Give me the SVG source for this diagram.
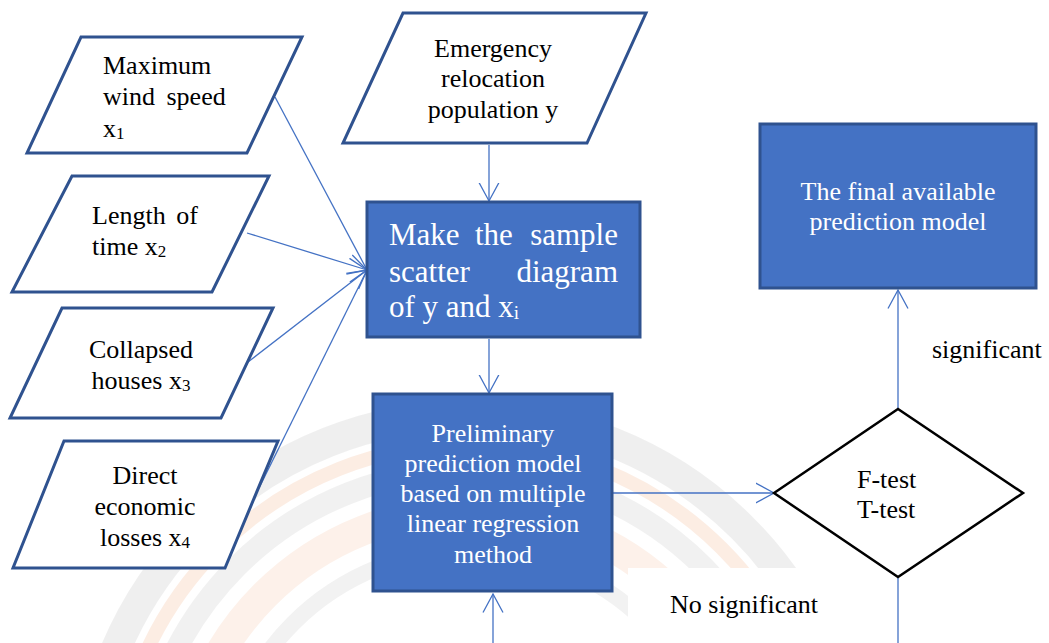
<svg xmlns="http://www.w3.org/2000/svg" width="1049" height="643" viewBox="0 0 1049 643">
<style>
.para{fill:#ffffff;stroke:#2f528f;stroke-width:3}
.box{fill:#4472c4;stroke:#2f528f;stroke-width:3}
text{font-family:'Liberation Serif',serif;font-size:26px}
.t{fill:#000000}
.w{fill:#ffffff}
.big{font-size:31px}
.c{text-anchor:middle}
.sub{font-size:17px}
.conn{fill:none;stroke:#4472c4;stroke-width:1.3}
</style>
<defs>
<marker id="arr" markerUnits="userSpaceOnUse" viewBox="0 0 20 22" markerWidth="20" markerHeight="22" refX="18.5" refY="11" orient="auto">
<path d="M0,1 L18.5,11 L0,21" fill="none" stroke="#4472c4" stroke-width="1.3"/>
</marker>
</defs>
<rect width="1049" height="643" fill="#ffffff"/>
<g id="watermark" fill="none" opacity="0.6">
<circle cx="470" cy="800" r="385" stroke="#e6e6e6" stroke-width="30"/>
<circle cx="470" cy="800" r="356" stroke="#fbe2d2" stroke-width="14"/>
<circle cx="470" cy="800" r="330" stroke="#e9e9e9" stroke-width="22"/>
<circle cx="470" cy="800" r="290" stroke="#fce9dd" stroke-width="30"/>
<circle cx="470" cy="800" r="250" stroke="#eaeaea" stroke-width="16"/>
</g>
<rect x="628" y="568" width="236" height="75" fill="#ffffff"/>
<g id="connectors">
<line class="conn" x1="275" y1="97" x2="367" y2="270" marker-end="url(#arr)"/>
<line class="conn" x1="247" y1="233" x2="367" y2="270" marker-end="url(#arr)"/>
<line class="conn" x1="248" y1="362" x2="367" y2="270" marker-end="url(#arr)"/>
<line class="conn" x1="259" y1="488" x2="367" y2="270" marker-end="url(#arr)"/>
<line class="conn" x1="489" y1="145" x2="489" y2="201" marker-end="url(#arr)"/>
<line class="conn" x1="489" y1="339" x2="489" y2="393" marker-end="url(#arr)"/>
<line class="conn" x1="493" y1="643" x2="493" y2="594" marker-end="url(#arr)"/>
<line class="conn" x1="613" y1="493" x2="774" y2="493" marker-end="url(#arr)"/>
<line class="conn" x1="898" y1="409" x2="898" y2="290" marker-end="url(#arr)"/>
<line class="conn" x1="898" y1="578" x2="898" y2="643"/>
</g>
<g id="n1">
<polygon class="para" points="81,37 302,37 247,153 27,153"/>
<text class="t" x="103" y="74" font-family="Liberation Serif">Maximum</text>
<text class="t" x="103" y="105" font-family="Liberation Serif" word-spacing="5">wind speed</text>
<text class="t" x="103" y="137" font-family="Liberation Serif">x<tspan class="sub" dy="2">1</tspan></text>
</g>
<g id="n2">
<polygon class="para" points="72,176 269,176 212,292 12,292"/>
<text class="t" x="92" y="224" font-family="Liberation Serif" word-spacing="4">Length of</text>
<text class="t" x="92" y="255" font-family="Liberation Serif">time x<tspan class="sub" dy="2">2</tspan></text>
</g>
<g id="n3">
<polygon class="para" points="62,308 273,308 221,418 10,418"/>
<text class="t c" x="141" y="358" font-family="Liberation Serif">Collapsed</text>
<text class="t c" x="141" y="389" font-family="Liberation Serif">houses x<tspan class="sub" dy="2">3</tspan></text>
</g>
<g id="n4">
<polygon class="para" points="64,441 278,441 225,568 13,568"/>
<text class="t c" x="145" y="484" font-family="Liberation Serif">Direct</text>
<text class="t c" x="145" y="515" font-family="Liberation Serif">economic</text>
<text class="t c" x="145" y="546" font-family="Liberation Serif">losses x<tspan class="sub" dy="2">4</tspan></text>
</g>
<g id="n5">
<polygon class="para" points="403,13 646,13 587,143 343,143"/>
<text class="t c" x="493" y="57" font-family="Liberation Serif">Emergency</text>
<text class="t c" x="493" y="87" font-family="Liberation Serif">relocation</text>
<text class="t c" x="493" y="118" font-family="Liberation Serif">population y</text>
</g>
<g id="n6">
<rect class="box" x="367" y="202" width="273" height="135"/>
<text class="w big" y="245" font-family="Liberation Serif"><tspan x="389">Make</tspan><tspan x="475">the</tspan><tspan x="618" text-anchor="end">sample</tspan></text>
<text class="w big" y="282" font-family="Liberation Serif"><tspan x="389">scatter</tspan><tspan x="618" text-anchor="end">diagram</tspan></text>
<text class="w big" x="389" y="317" font-family="Liberation Serif">of y and x<tspan font-size="19" dy="2">i</tspan></text>
</g>
<g id="n7">
<rect class="box" x="373" y="394" width="239" height="197"/>
<text class="w c" x="493" y="442" font-family="Liberation Serif">Preliminary</text>
<text class="w c" x="493" y="472" font-family="Liberation Serif">prediction model</text>
<text class="w c" x="493" y="502" font-family="Liberation Serif">based on multiple</text>
<text class="w c" x="493" y="532" font-family="Liberation Serif">linear regression</text>
<text class="w c" x="493" y="563" font-family="Liberation Serif">method</text>
</g>
<g id="n8">
<rect class="box" x="760" y="124" width="276" height="164"/>
<text class="w c" x="898" y="200" font-family="Liberation Serif">The final available</text>
<text class="w c" x="898" y="230" font-family="Liberation Serif">prediction model</text>
</g>
<g id="n9">
<polygon points="774,493 898,409 1023,493 898,577" fill="#ffffff" stroke="#000000" stroke-width="2.5"/>
<text class="t" x="857" y="488" font-family="Liberation Serif">F-test</text>
<text class="t" x="857" y="518" font-family="Liberation Serif">T-test</text>
</g>
<g id="labels">
<text class="t" x="932" y="358" font-family="Liberation Serif">significant</text>
<text class="t" x="670" y="613" font-family="Liberation Serif">No significant</text>
</g>
</svg>
